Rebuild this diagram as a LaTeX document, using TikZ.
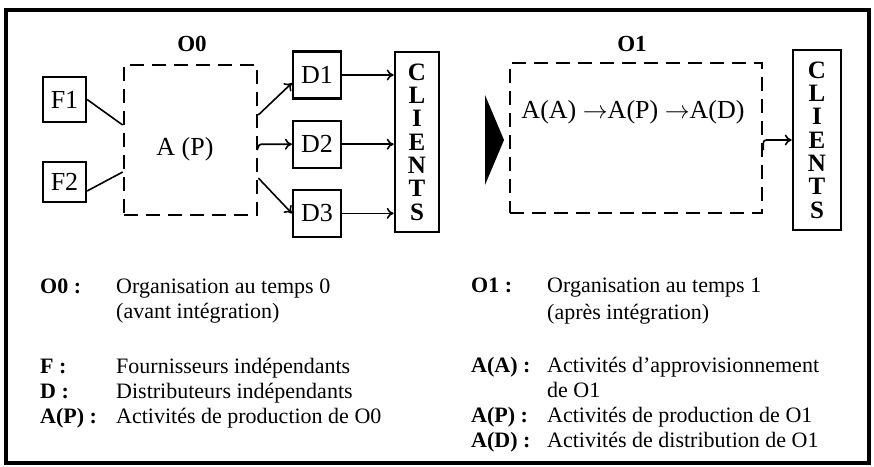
\documentclass[tikz,border=0pt]{standalone}
\usepackage{fontspec}
\setmainfont{Liberation Serif}
\usetikzlibrary{positioning, arrows.meta, calc}

\begin{document}
\begin{tikzpicture}[
    x=1pt, y=-1pt,
    box/.style={rectangle, draw, line width=2.2pt, minimum width=43pt,
                minimum height=45pt, inner sep=0pt, font=\fontsize{26}{28}\selectfont},
    zone/.style={rectangle, draw, dash pattern=on 14pt off 8pt, line width=2.6pt,
                 inner sep=0pt, minimum height=150pt},
    clients/.style={rectangle, draw, line width=2.6pt, minimum width=44pt,
                    minimum height=180pt, inner sep=0pt, align=center,
                    font=\fontsize{25}{23.3}\selectfont\bfseries},
    orgname/.style={font=\fontsize{23}{25}\selectfont\bfseries},
    link/.style={line width=1.6pt},
    flow/.style={link, -{To[length=7pt, width=11pt]}},
    legkey/.style={anchor=base west, inner sep=0pt, font=\fontsize{22}{25}\selectfont\bfseries},
    legtxt/.style={anchor=base west, inner sep=0pt, font=\fontsize{22}{25}\selectfont},
  ]
    \useasboundingbox (0,0) rectangle (874,466);
    \draw[line width=4pt] (6,10) rectangle (869,463);

    % avant integration
    \node[box] (F1) at (64.5,99.5) {F1};
    \node[box, minimum height=40pt] (F2) at (64.5,182) {F2};
    \node[zone, minimum width=133pt] (O0) at (190.5,140) {};
    \node[orgname] (O0LBL) at (192,44) {O0};
    \node[font=\fontsize{26}{28}\selectfont] (AP) at (185,149) {A (P)};
    \node[box, minimum width=48pt, minimum height=47pt] (D1) at (317,75) {D1};
    \node[box, minimum width=48pt, minimum height=47pt, below=20pt of D1] (D2) {D2};
    \node[box, minimum width=48pt, minimum height=47pt, below=20pt of D2] (D3) {D3};
    \node[clients] (CL0) at (417,142) {C\\L\\I\\E\\N\\T\\S};

    \draw[link] (F1.east) -- ([yshift=15pt]O0.west);
    \draw[link] ([yshift=-9pt]F2.east) -- ([yshift=-32pt]O0.west);
    \draw[flow] ([yshift=25pt]O0.east) -- ([yshift=-8pt]D1.west);
    \draw[flow, rounded corners=3pt] ([yshift=-6pt]O0.east) |- (D2.west);
    \draw[flow] ([yshift=-38pt]O0.east) -- (D3.west);
    \draw[flow] (D1.east) -- (D1.east -| CL0.west);
    \draw[flow] (D2.east) -- (D2.east -| CL0.west);
    \draw[flow] (D3.east) -- (D3.east -| CL0.west);

    % apres integration
    \fill (485,95) -- (504,140) -- (485,185) -- cycle;
    \node[zone, minimum width=252pt] (O1) at (636,138) {};
    \node[orgname] (O1LBL) at (632,44) {O1};
    \node[font=\fontsize{26}{28}\selectfont] (AAPD) at (633,112)
      {A(A) $\rightarrow$A(P) $\rightarrow$A(D)};
    \node[clients, minimum width=48pt] (CL1) at (817,140) {C\\L\\I\\E\\N\\T\\S};
    \draw[flow, rounded corners=3pt] ([yshift=-12pt]O1.east) |- (CL1.west);

    % legende
    \node[legkey] (KO0) at (40,293) {O0 :};
    \node[legtxt] (TO0) at (116,293) {Organisation au temps 0};
    \node[legtxt] (TO0B) at (116,318) {(avant intégration)};
    \node[legkey] (KF) at (40,373) {F :};
    \node[legtxt] (TF) at (116,373) {Fournisseurs indépendants};
    \node[legkey] (KD) at (40,398) {D :};
    \node[legtxt] (TD) at (116,398) {Distributeurs indépendants};
    \node[legkey] (KAP0) at (40,423) {A(P) :};
    \node[legtxt] (TAP0) at (116,423) {Activités de production de O0};

    \node[legkey] (KO1) at (471,292) {O1 :};
    \node[legtxt] (TO1) at (547,292) {Organisation au temps 1};
    \node[legtxt] (TO1B) at (547,319) {(après intégration)};
    \node[legkey] (KAA) at (471,372) {A(A) :};
    \node[legtxt] (TAA) at (547,372) {Activités d'approvisionnement};
    \node[legtxt] (TAAB) at (547,397) {de O1};
    \node[legkey] (KAP1) at (471,422) {A(P) :};
    \node[legtxt] (TAP1) at (547,422) {Activités de production de O1};
    \node[legkey] (KAD) at (471,447) {A(D) :};
    \node[legtxt] (TAD) at (547,447) {Activités de distribution de O1};
  \end{tikzpicture}
\end{document}
